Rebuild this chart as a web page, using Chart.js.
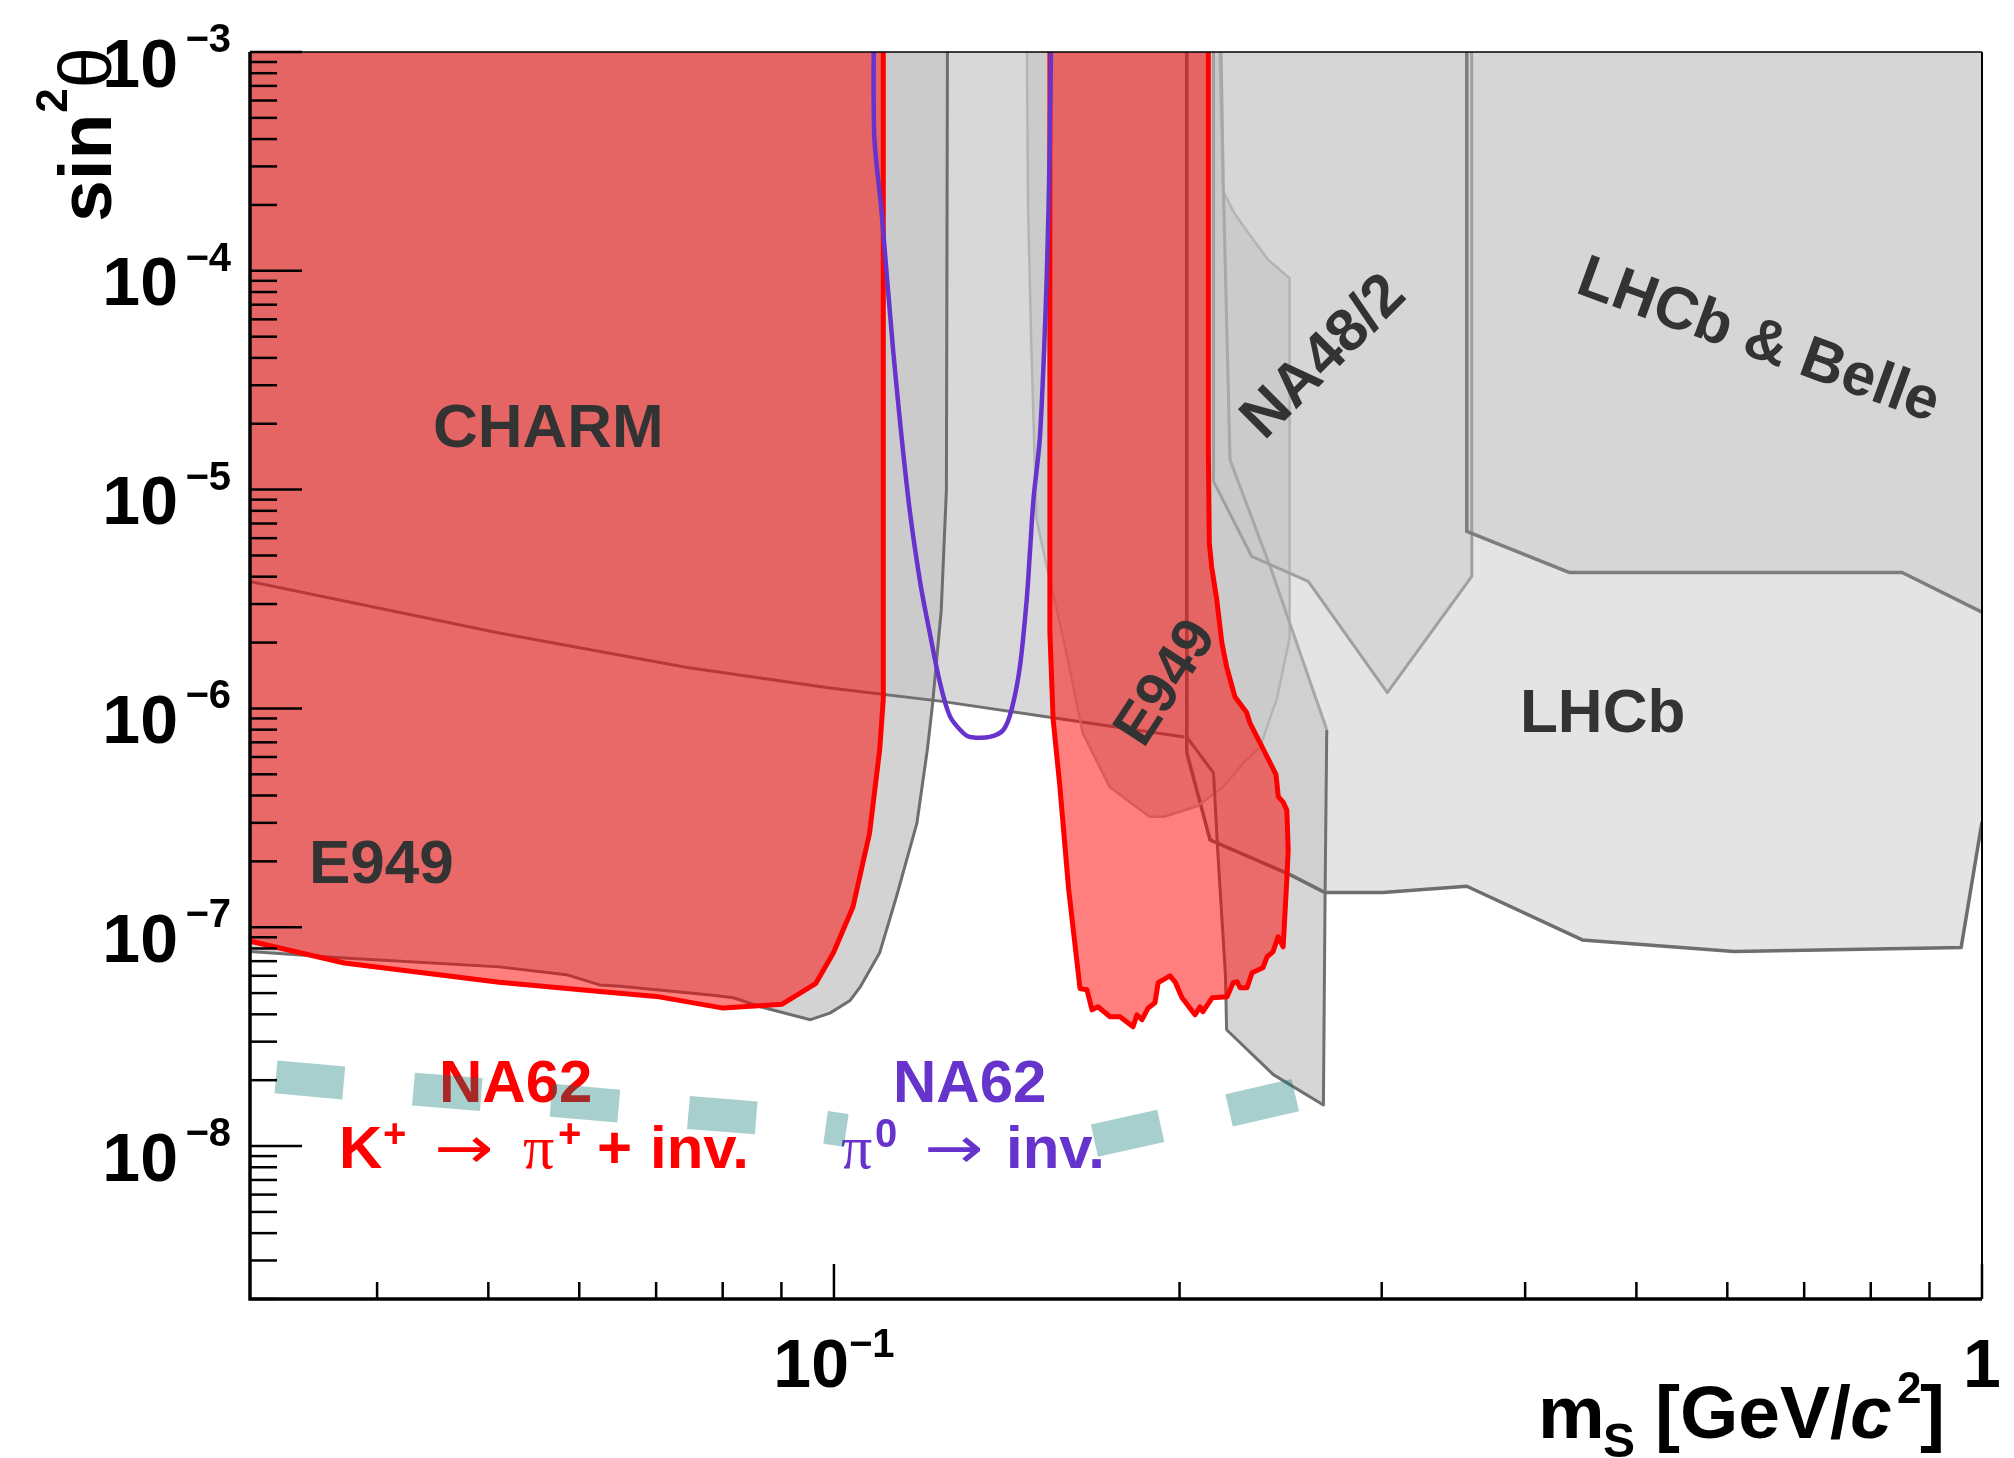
<!DOCTYPE html>
<html>
<head>
<meta charset="utf-8">
<title>sin2theta vs m_S exclusion</title>
<script src="https://cdn.jsdelivr.net/npm/chart.js@4.4.1/dist/chart.umd.min.js"></script>
<style>
  html, body { margin: 0; padding: 0; background: #ffffff; }
  canvas { display: block; }
</style>
</head>
<body>
<canvas id="plot" width="2014" height="1458"></canvas>
<script>
// axis ranges: m_S in GeV/c^2, mixing sin^2(theta)
var massRange = [0.031, 1];
var mixingRange = [2e-9, 1e-3];

// tick labels: [value, mantissa, exponent]
var xTickLabels = [[0.1, '10', '\u22121'], [1, '1', '']];
var yTickLabels = [[1e-3, '10', '\u22123'], [1e-4, '10', '\u22124'], [1e-5, '10', '\u22125'],
                   [1e-6, '10', '\u22126'], [1e-7, '10', '\u22127'], [1e-8, '10', '\u22128']];

// excluded regions, [m_S, sin^2 theta] (points above 1e-3 only close the shapes)
var lhcbRegion = [[1.0, 2e-3], [0.2029, 2e-3], [0.2029, 6.30e-7], [0.2126, 2.51e-7], [0.2496, 1.74e-7],
  [0.2678, 1.44e-7], [0.3008, 1.44e-7], [0.3558, 1.54e-7], [0.4486, 8.75e-8], [0.608, 7.74e-8],
  [0.959, 8.07e-8], [1.0, 3.03e-7]];

var charmRegion = [[0.2029, 2e-3], [0.03, 2e-3], [0.03, 3.94e-6], [0.0511, 2.21e-6], [0.0745, 1.54e-6],
  [0.0992, 1.24e-6], [0.1237, 1.08e-6], [0.1552, 9.07e-7], [0.2019, 7.41e-7]];

var e949LowRegion = [[0.1256, 2e-3], [0.03, 2e-3], [0.03, 7.85e-8], [0.03745, 7.24e-8], [0.0511, 6.59e-8],
  [0.05846, 6.07e-8], [0.06252, 5.45e-8], [0.06515, 5.37e-8], [0.07843, 4.89e-8], [0.08173, 4.76e-8],
  [0.08627, 4.33e-8], [0.09539, 3.78e-8], [0.0992, 4.05e-8], [0.1033, 4.63e-8], [0.1055, 5.37e-8],
  [0.1096, 7.64e-8], [0.1134, 1.39e-7], [0.1181, 2.99e-7], [0.1206, 6.47e-7], [0.1218, 1.02e-6],
  [0.1240, 2.79e-6], [0.1253, 9.93e-6]];

var e949HighRegion = [[0.1471, 2e-3], [0.1476, 1.92e-4], [0.1486, 4.34e-5], [0.1501, 7.38e-6],
  [0.1532, 4.47e-6], [0.1585, 2.07e-6], [0.1647, 7.72e-7], [0.1739, 4.37e-7], [0.1812, 3.72e-7],
  [0.1884, 3.20e-7], [0.1938, 3.20e-7], [0.2072, 3.57e-7], [0.2182, 4.37e-7], [0.2274, 5.65e-7],
  [0.2350, 6.65e-7], [0.2430, 1.10e-6], [0.2494, 2.10e-6], [0.2494, 9.25e-5], [0.2390, 1.12e-4],
  [0.2302, 1.46e-4], [0.2230, 1.85e-4], [0.2182, 2.32e-4], [0.2159, 2e-3]];

var bandRegion = [[0.2029, 2e-3], [0.2029, 7.41e-7], [0.2141, 5.07e-7], [0.2159, 2.25e-7],
  [0.2193, 5.99e-8], [0.2198, 3.40e-8], [0.2414, 2.12e-8], [0.2669, 1.54e-8], [0.2678, 1.43e-7],
  [0.2687, 7.99e-7], [0.2398, 4.46e-6], [0.2213, 1.37e-5], [0.2184, 2.33e-4], [0.2169, 2e-3]];

var na48Region = [[0.3594, 2e-3], [0.2141, 2e-3], [0.2141, 1.09e-5], [0.2311, 4.96e-6],
  [0.2589, 3.81e-6], [0.3034, 1.18e-6], [0.3594, 4.01e-6]];

var lhcbBelleRegion = [[1.0, 2e-3], [0.3558, 2e-3], [0.3558, 6.44e-6], [0.4373, 4.18e-6],
  [0.852, 4.18e-6], [1.0, 2.75e-6]];

// NA62 K+ -> pi+ + inv.
var na62KLowRegion = [[0.1104, 2e-3], [0.03, 2e-3], [0.03, 8.99e-8], [0.03745, 6.86e-8], [0.0511, 5.60e-8],
  [0.06252, 5.09e-8], [0.07003, 4.83e-8], [0.08007, 4.27e-8], [0.09013, 4.45e-8], [0.09638, 5.52e-8],
  [0.0999, 7.64e-8], [0.1039, 1.24e-7], [0.1074, 2.69e-7], [0.1096, 6.47e-7], [0.1104, 1.10e-6]];

var na62KHighRegion = [[0.1542, 2e-3], [0.1542, 2.24e-6], [0.1552, 8.95e-7], [0.1573, 4.43e-7],
  [0.1601, 1.50e-7], [0.1638, 5.25e-8], [0.1661, 5.18e-8], [0.1678, 4.19e-8], [0.1698, 4.33e-8],
  [0.1740, 3.90e-8], [0.1775, 3.90e-8], [0.1822, 3.51e-8], [0.1836, 3.98e-8], [0.1855, 3.78e-8],
  [0.1878, 4.28e-8], [0.1904, 4.52e-8], [0.1916, 5.58e-8], [0.1962, 6.00e-8], [0.1982, 5.63e-8],
  [0.2010, 4.76e-8], [0.2063, 3.98e-8], [0.2084, 4.33e-8], [0.2096, 4.11e-8], [0.2135, 4.76e-8],
  [0.2200, 4.81e-8], [0.2227, 5.58e-8], [0.2245, 5.63e-8], [0.2258, 5.29e-8], [0.2290, 5.29e-8],
  [0.2313, 6.20e-8], [0.2364, 6.53e-8], [0.2384, 7.33e-8], [0.2412, 7.72e-8], [0.2437, 9.05e-8],
  [0.2462, 8.14e-8], [0.2480, 1.65e-7], [0.2487, 2.25e-7], [0.2480, 3.43e-7], [0.2463, 3.72e-7],
  [0.2438, 3.95e-7], [0.2427, 4.98e-7], [0.2398, 5.65e-7], [0.2350, 6.97e-7], [0.2303, 8.60e-7],
  [0.2288, 9.58e-7], [0.2235, 1.13e-6], [0.2198, 1.55e-6], [0.2177, 2.00e-6], [0.2155, 3.14e-6],
  [0.2133, 4.44e-6], [0.2123, 5.72e-6], [0.2119, 1.52e-5], [0.2119, 2e-3]];

// NA62 pi0 -> inv.
var na62Pi0Curve = [[0.1084, 2e-3], [0.1084, 4.26e-4], [0.1100, 1.89e-4], [0.1126, 4.34e-5],
  [0.1161, 9.04e-6], [0.1189, 3.75e-6], [0.1212, 2.21e-6], [0.1237, 1.31e-6], [0.1262, 9.20e-7],
  [0.1296, 7.72e-7], [0.1314, 7.41e-7], [0.1367, 7.41e-7], [0.1405, 7.99e-7], [0.1428, 9.87e-7],
  [0.1452, 1.55e-6], [0.1472, 3.14e-6], [0.1482, 5.32e-6], [0.1492, 9.00e-6], [0.1512, 1.78e-5],
  [0.1532, 9.05e-5], [0.1542, 3.97e-4], [0.1547, 2e-3]];

// dashed sensitivity curves
var projectionLow = [[0.03266, 2.07e-8], [0.04304, 1.82e-8], [0.05683, 1.62e-8], [0.07518, 1.42e-8],
  [0.08627, 1.34e-8], [0.1025, 1.18e-8]];
var projectionHigh = [[0.1686, 1.06e-8], [0.2077, 1.35e-8], [0.2559, 1.74e-8]];

var SANS = '"Liberation Sans", Arial, Helvetica, sans-serif';
var SERIF = '"Liberation Serif", "Times New Roman", serif';
var ARROWS = '"DejaVu Sans", sans-serif';

function toPoints(list) {
  return list.map(function (p) { return {x: p[0], y: p[1]}; });
}

function filled(list, color, order) {
  return {
    data: toPoints(list), showLine: true, fill: 'shape', backgroundColor: color,
    borderColor: 'rgba(0,0,0,0)', borderWidth: 0, pointRadius: 0, order: order, clip: 0
  };
}

function outline(list, color, width, order) {
  return {
    data: toPoints(list), showLine: true, fill: false, borderColor: color, borderWidth: width,
    borderJoinStyle: 'round', pointRadius: 0, order: order, clip: 0
  };
}

var datasets = [
  filled(lhcbRegion, '#e4e4e4', 100),
  filled(charmRegion, '#d8d8d8', 99),
  filled(e949LowRegion, 'rgba(200,200,200,0.8)', 98),
  filled(e949HighRegion, 'rgba(200,200,200,0.8)', 97),
  filled(bandRegion, 'rgba(202,202,202,0.78)', 96),
  filled(na48Region, 'rgba(200,200,200,0.5)', 95),
  filled(lhcbBelleRegion, 'rgba(200,200,200,0.5)', 94),

  outline(lhcbRegion.slice(1), '#6e6e6e', 3.5, 80),
  outline(charmRegion.slice(2), '#707070', 3, 79),
  outline(e949LowRegion.slice(2).concat([e949LowRegion[0]]), '#6e6e6e', 3, 78),
  outline(e949HighRegion, '#b4b4b4', 2.5, 77),
  outline(bandRegion.slice(0, 10), '#707070', 3, 76),
  outline(bandRegion.slice(9), '#a8a8a8', 3, 75),
  outline(na48Region.slice(1).concat([na48Region[0]]), '#a0a0a0', 3, 74),
  outline(lhcbBelleRegion.slice(1), '#7d7d7d', 3.5, 73),

  filled(na62KLowRegion, 'rgba(255,0,0,0.5)', 60),
  filled(na62KHighRegion, 'rgba(255,0,0,0.5)', 59),
  outline(na62KLowRegion.slice(2).concat([na62KLowRegion[0]]), '#ff0000', 5, 50),
  outline(na62KHighRegion, '#ff0000', 5, 49)
];

var pi0Line = outline(na62Pi0Curve, '#6633cc', 4.5, 40);
pi0Line.tension = 0.3;
datasets.push(pi0Line);

var projLow = outline(projectionLow, 'rgba(0,116,110,0.345)', 33, 11);
projLow.borderDash = [68, 70];
projLow.borderCapStyle = 'butt';
projLow.borderJoinStyle = 'miter';
projLow.drawLabelsBefore = true;
var projHigh = outline(projectionHigh, 'rgba(0,116,110,0.345)', 33, 10);
projHigh.borderDash = [68, 70];
projHigh.borderCapStyle = 'butt';
projHigh.borderJoinStyle = 'miter';
datasets.push(projLow, projHigh);

function text(ctx, str, font, x, y) {
  ctx.font = font;
  ctx.fillText(str, x, y);
}

// thin arrow, stretched a bit to the length of the ROOT #rightarrow
function arrow(ctx, x, y) {
  ctx.save();
  ctx.translate(x, y);
  ctx.scale(1.22, 1);
  ctx.font = '58px ' + ARROWS;
  ctx.fillText('\u2192', 0, 0);
  ctx.restore();
}

function rotatedText(ctx, str, size, cx, cy, deg) {
  ctx.save();
  ctx.translate(cx, cy);
  ctx.rotate(deg * Math.PI / 180);
  ctx.textAlign = 'center';
  ctx.font = 'bold ' + size + 'px ' + SANS;
  ctx.fillText(str, 0, 0.36 * size);
  ctx.restore();
}

function drawLabels(ctx) {
  ctx.save();
  ctx.textAlign = 'left';
  ctx.textBaseline = 'alphabetic';

  ctx.fillStyle = '#333333';
  text(ctx, 'CHARM', 'bold 62px ' + SANS, 433, 447);
  text(ctx, 'E949', 'bold 62px ' + SANS, 309, 883);
  text(ctx, 'LHCb', 'bold 62px ' + SANS, 1520, 732);
  rotatedText(ctx, 'E949', 58, 1163, 681, -57);
  rotatedText(ctx, 'NA48/2', 60, 1321, 354, -45);
  rotatedText(ctx, 'LHCb & Belle', 60, 1760, 337, 20);

  // NA62 K+ -> pi+ + inv.
  ctx.fillStyle = '#ff0000';
  text(ctx, 'NA62', 'bold 60px ' + SANS, 439, 1102);
  text(ctx, 'K', 'bold 60px ' + SANS, 339, 1168);
  text(ctx, '+', 'bold 40px ' + SANS, 383, 1147);
  arrow(ctx, 434, 1168);
  text(ctx, '\u03c0', '62px ' + SERIF, 523, 1168);
  text(ctx, '+', 'bold 40px ' + SANS, 558, 1147);
  text(ctx, '+', 'bold 60px ' + SANS, 597, 1168);
  text(ctx, 'inv.', 'bold 60px ' + SANS, 650, 1168);

  // NA62 pi0 -> inv.
  ctx.fillStyle = '#6633cc';
  text(ctx, 'NA62', 'bold 60px ' + SANS, 893, 1102);
  text(ctx, '\u03c0', '62px ' + SERIF, 841, 1168);
  text(ctx, '0', 'bold 40px ' + SANS, 875, 1147);
  arrow(ctx, 924, 1168);
  text(ctx, 'inv.', 'bold 60px ' + SANS, 1006, 1168);
  ctx.restore();
}

function drawAxes(chart) {
  var ctx = chart.ctx;
  var a = chart.chartArea;
  var xs = chart.scales.x;
  var ys = chart.scales.y;
  ctx.save();
  ctx.strokeStyle = '#000000';
  ctx.fillStyle = '#000000';
  ctx.lineCap = 'butt';

  // y ticks (inside the frame)
  ctx.lineWidth = 2.5;
  for (var e = -9; e <= -3; e++) {
    for (var k = 1; k <= 9; k++) {
      var v = k * Math.pow(10, e);
      if (v < mixingRange[0] * 0.999 || v > mixingRange[1] * 1.001) continue;
      var py = ys.getPixelForValue(v);
      var len = k === 1 ? 52 : 27;
      ctx.beginPath();
      ctx.moveTo(a.left, py);
      ctx.lineTo(a.left + len, py);
      ctx.stroke();
    }
  }
  // x ticks
  for (var ex = -2; ex <= 0; ex++) {
    for (var kx = 1; kx <= 9; kx++) {
      var vx = kx * Math.pow(10, ex);
      if (vx < massRange[0] * 0.999 || vx > massRange[1] * 1.001) continue;
      var px = xs.getPixelForValue(vx);
      var lx = kx === 1 ? 35 : 17;
      ctx.beginPath();
      ctx.moveTo(px, a.bottom);
      ctx.lineTo(px, a.bottom - lx);
      ctx.stroke();
    }
  }

  // frame
  ctx.lineWidth = 1.5;
  ctx.beginPath();
  ctx.moveTo(a.left, a.top);
  ctx.lineTo(a.right, a.top);
  ctx.stroke();
  ctx.lineWidth = 2;
  ctx.beginPath();
  ctx.moveTo(a.right, a.top);
  ctx.lineTo(a.right, a.bottom);
  ctx.stroke();
  ctx.lineWidth = 3.5;
  ctx.beginPath();
  ctx.moveTo(a.left, a.top);
  ctx.lineTo(a.left, a.bottom);
  ctx.lineTo(a.right, a.bottom);
  ctx.stroke();

  // y tick labels
  ctx.textBaseline = 'alphabetic';
  yTickLabels.forEach(function (t) {
    var py = ys.getPixelForValue(t[0]);
    ctx.textAlign = 'right';
    text(ctx, t[1], 'bold 68px ' + SANS, 178, py + 34.5);
    text(ctx, t[2], 'bold 40px ' + SANS, 231, py);
  });

  // x tick labels
  xTickLabels.forEach(function (t) {
    var px = xs.getPixelForValue(t[0]);
    ctx.textAlign = 'left';
    ctx.font = 'bold 68px ' + SANS;
    var w1 = ctx.measureText(t[1]).width;
    ctx.font = 'bold 40px ' + SANS;
    var w2 = t[2] ? ctx.measureText(t[2]).width : 0;
    var x0 = px - (w1 + w2) / 2;
    text(ctx, t[1], 'bold 68px ' + SANS, x0, 1387);
    if (t[2]) text(ctx, t[2], 'bold 40px ' + SANS, x0 + w1, 1357);
  });

  // x title: m_S [GeV/c^2]
  ctx.textAlign = 'left';
  text(ctx, 'm', 'bold 75px ' + SANS, 1538, 1438);
  text(ctx, 'S', 'bold 48px ' + SANS, 1603, 1457);
  text(ctx, '[GeV/', 'bold 75px ' + SANS, 1655, 1438);
  text(ctx, 'c', 'italic bold 75px ' + SANS, 1850, 1438);
  text(ctx, '2', 'bold 44px ' + SANS, 1897, 1403);
  text(ctx, ']', 'bold 75px ' + SANS, 1920, 1438);

  // y title: sin^2 theta
  ctx.save();
  ctx.translate(111, 222);
  ctx.rotate(-Math.PI / 2);
  ctx.textAlign = 'left';
  ctx.font = 'bold 75px ' + SANS;
  ctx.fillText('sin', 0, 0);
  var w = ctx.measureText('sin').width;
  ctx.font = 'bold 44px ' + SANS;
  ctx.fillText('2', w + 1, -44);
  w += ctx.measureText('2').width + 1;
  ctx.font = '74px ' + SANS;
  ctx.fillText('\u03b8', w, 0);
  ctx.restore();

  ctx.restore();
}

var overlayPlugin = {
  id: 'overlay',
  beforeDatasetDraw: function (chart, args) {
    var ds = chart.data.datasets[args.index];
    if (ds && ds.drawLabelsBefore) drawLabels(chart.ctx);
  },
  afterDraw: function (chart) {
    drawAxes(chart);
  }
};

new Chart(document.getElementById('plot').getContext('2d'), {
  type: 'scatter',
  data: { datasets: datasets },
  options: {
    responsive: false,
    animation: false,
    devicePixelRatio: 1,
    events: [],
    layout: { padding: { left: 250, top: 52, right: 32, bottom: 159 } },
    elements: { point: { radius: 0 }, line: { tension: 0 } },
    plugins: { legend: { display: false }, tooltip: { enabled: false } },
    scales: {
      x: { type: 'logarithmic', min: massRange[0], max: massRange[1], display: false },
      y: { type: 'logarithmic', min: mixingRange[0], max: mixingRange[1], display: false }
    }
  },
  plugins: [overlayPlugin]
});
</script>
</body>
</html>
